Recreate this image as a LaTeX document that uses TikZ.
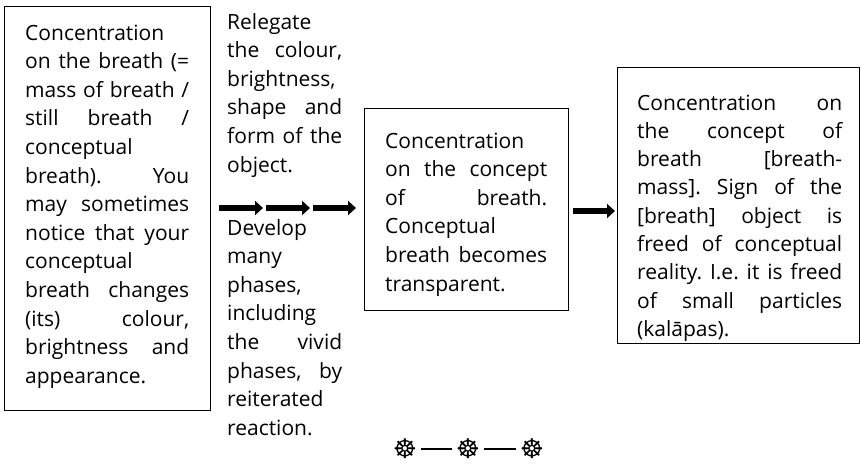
\documentclass[tikz,border=0pt]{standalone}
\usepackage{fontspec}
\setmainfont{Open Sans}
\newfontfamily\symfont{DejaVu Sans}
\usetikzlibrary{arrows.meta}
\newcommand\Jl[1]{\hbox to\linewidth{#1}}
\newcommand\Ll[1]{\hbox to\linewidth{#1\hfil}}
\newcommand\bodyfont{\fontsize{21}{28.6}\selectfont\frenchspacing\spaceskip=0.2em plus 1fil minus 0.08em\relax}
\begin{document}
\begin{tikzpicture}[x=1pt,y=-1pt,
  box/.style={draw,line width=1.2pt},
  txt/.style={anchor=base west,inner sep=0pt,font=\bodyfont},
  fat/.style={line width=5.5pt,-{Triangle[length=8pt,width=14pt]}},
  wheel/.style={inner sep=0pt,text height=19pt,text depth=0pt,font=\symfont\fontsize{27}{27}\selectfont},
  rule/.style={line width=1.3pt}]
\useasboundingbox (0,0) rectangle (861,466);
\node[box,minimum width=206pt,minimum height=404pt,anchor=north west] (b1) at (4,6) {};
\node[box,minimum width=204pt,minimum height=202pt,anchor=north west] (b2) at (364,108) {};
\node[box,minimum width=242pt,minimum height=276pt,anchor=north west] (b3) at (617,67) {};
\node[txt] (t1) at (25,40) {\parbox[t]{164pt}{\bodyfont
\Ll{Concentration}
\Jl{on the breath (=}
\Jl{mass of breath /}
\Jl{still breath /}
\Ll{conceptual}
\Jl{breath). You}
\Jl{may sometimes}
\Jl{notice that your}
\Ll{conceptual}
\Jl{breath changes}
\Jl{(its) colour,}
\Jl{brightness and}
\Ll{appearance.}}};
\node[txt] (t2) at (227,29) {\parbox[t]{115pt}{\bodyfont
\Ll{Relegate}
\Jl{the colour,}
\Ll{brightness,}
\Jl{shape and}
\Jl{form of the}
\Ll{object.}}};
\node[txt] (t3) at (227,235) {\parbox[t]{115pt}{\bodyfont
\Ll{Develop}
\Ll{many}
\Ll{phases,}
\Ll{including}
\Jl{the vivid}
\Jl{phases, by}
\Ll{reiterated}
\Ll{reaction.}}};
\node[txt] (t4) at (385,148) {\parbox[t]{162pt}{\bodyfont
\Ll{Concentration}
\Jl{on the concept}
\Jl{of breath.}
\Ll{Conceptual}
\Jl{breath becomes}
\Ll{transparent.}}};
\node[txt] (t5) at (637,110) {\parbox[t]{205pt}{\bodyfont\baselineskip=28.33pt
\Jl{Concentration on}
\Jl{the concept of}
\Jl{breath [breath-}
\Jl{mass]. Sign of the}
\Jl{[breath] object is}
\Jl{freed of conceptual}
\Jl{reality. I.e. it is freed}
\Jl{of small particles}
\Ll{(kalāpas).}}};
\coordinate (a0) at (219,208);
\coordinate (a1) at (266,208);
\coordinate (a2) at (313,208);
\coordinate (a3) at (357,208);
\draw[fat] (a0) -- ([xshift=-3pt]a1);
\draw[fat] (a1) -- ([xshift=-3pt]a2);
\draw[fat] (a2) -- ([xshift=-1pt]a3);
\draw[fat,shorten <=4pt,shorten >=2pt] (b2.east |- 0,211) -- (b3.west |- 0,211);
\node[wheel] (w1) at (405,449) {☸};
\node[wheel] (w2) at (468,449) {☸};
\node[wheel] (w3) at (532,449) {☸};
\draw[rule,shorten <=4pt,shorten >=4pt] (w1) -- (w2);
\draw[rule,shorten <=4pt,shorten >=4pt] (w2) -- (w3);
\end{tikzpicture}
\end{document}
